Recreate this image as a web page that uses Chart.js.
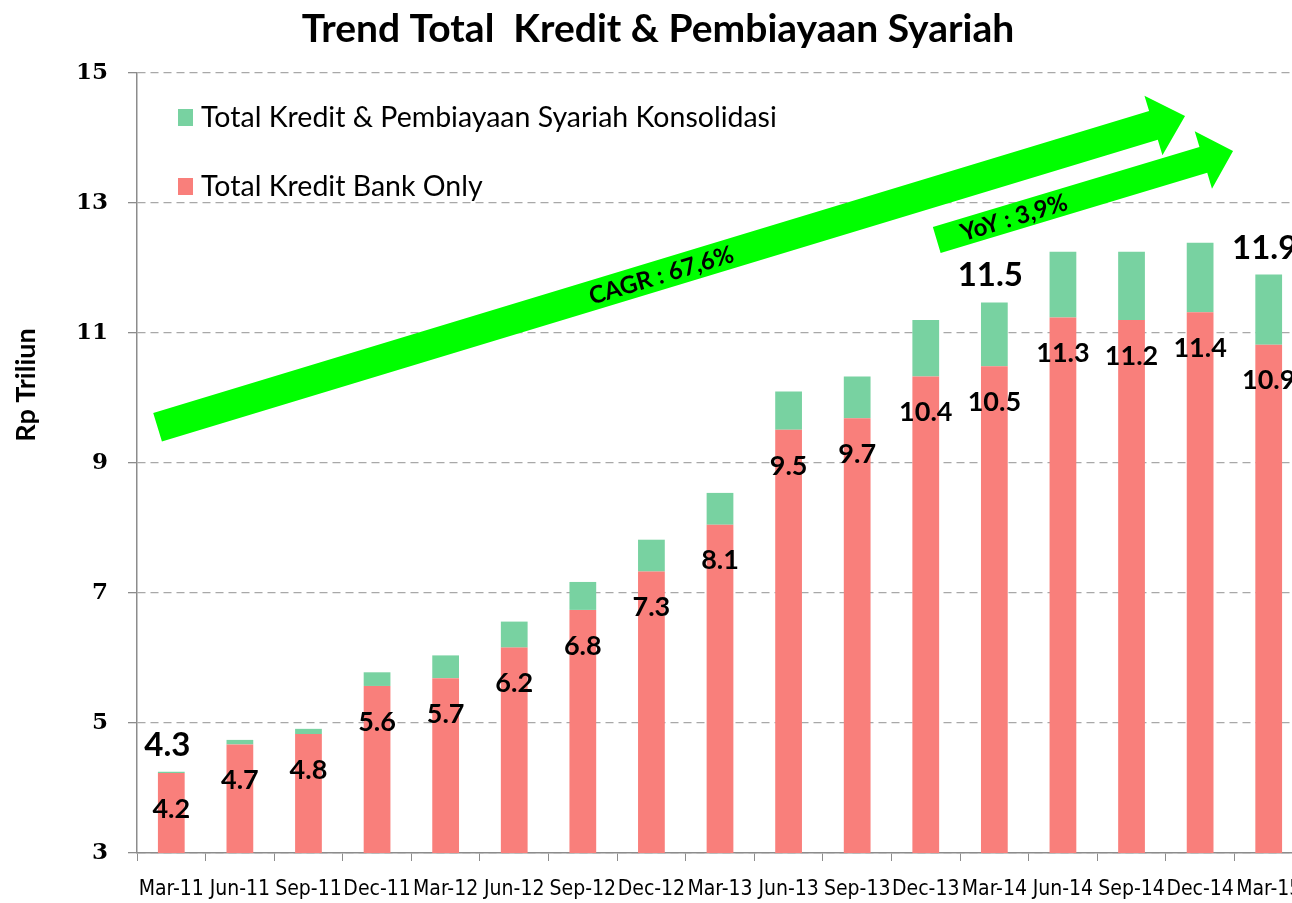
<!DOCTYPE html>
<html>
<head>
<meta charset="utf-8">
<script src="https://cdn.jsdelivr.net/npm/chart.js@4.4.1/dist/chart.umd.min.js"></script>
<style>
  html, body { margin: 0; padding: 0; background: #fff; overflow: hidden; }
  #wrap { width: 1292px; height: 903px; overflow: hidden; position: relative; }
  #chart { display: block; }
</style>
</head>
<body>
<div id="wrap"><canvas id="chart" width="1303" height="903"></canvas></div>
<script>
// Quarters shown on the x axis
const categories = ['Mar-11', 'Jun-11', 'Sep-11', 'Dec-11', 'Mar-12', 'Jun-12', 'Sep-12', 'Dec-12',
    'Mar-13', 'Jun-13', 'Sep-13', 'Dec-13', 'Mar-14', 'Jun-14', 'Sep-14', 'Dec-14', 'Mar-15'];

// Total Kredit Bank Only (Rp Triliun)
const bankOnly = [4.23, 4.67, 4.83, 5.57, 5.69, 6.16, 6.74, 7.33, 8.05, 9.51, 9.69, 10.33, 10.49, 11.24, 11.2, 11.32, 10.82];
// Total Kredit & Pembiayaan Syariah Konsolidasi (top of the green part)
const konsolidasi = [4.25, 4.74, 4.91, 5.78, 6.04, 6.56, 7.17, 7.82, 8.54, 10.1, 10.33, 11.2, 11.47, 12.25, 12.25, 12.39, 11.9];

// Printed labels
const bankLabels = ['4.2', '4.7', '4.8', '5.6', '5.7', '6.2', '6.8', '7.3', '8.1', '9.5', '9.7', '10.4', '10.5', '11.3', '11.2', '11.4', '10.9'];
const totalLabels = ['4.3', null, null, null, null, null, null, null, null, null, null, null, '11.5', null, null, null, '11.9'];

// Y axis ticks
const yMin = 3;
const yMax = 15;
const yStep = 2;

// Growth arrows, ends given in axis units (category index, Rp Triliun)
const growthArrows = [
    { text: 'CAGR : 67,6%', from: [-0.2, 9.55], to: [14.78, 14.34], half: 15, headHalf: 31, headLen: 33, textAt: 0.49 },
    { text: 'YoY : 3,9%', from: [11.16, 12.43], to: [15.48, 13.8], half: 13.5, headHalf: 30, headLen: 31, textAt: 0.26 }
];

const RED = '#F97F7B';
const GREEN = '#78D2A1';
const ARROW = '#00FF00';
const SANS = 'Lato, "Open Sans", sans-serif';

// green part = consolidated total minus bank only
const syariahPart = konsolidasi.map((v, i) => +(v - bankOnly[i]).toFixed(2));

const decorations = {
    id: 'decorations',
    afterDatasetsDraw(chart) {
        const ctx = chart.ctx;
        const xs = chart.scales.x, ys = chart.scales.y;

        // arrows
        growthArrows.forEach(a => {
            const tx = xs.getPixelForValue(a.from[0]), ty = ys.getPixelForValue(a.from[1]);
            const px = xs.getPixelForValue(a.to[0]), py = ys.getPixelForValue(a.to[1]);
            const len = Math.hypot(px - tx, py - ty);
            const ux = (px - tx) / len, uy = (py - ty) / len;
            const nx = -uy, ny = ux;
            const bx = px - ux * a.headLen, by = py - uy * a.headLen;
            ctx.save();
            ctx.fillStyle = ARROW;
            ctx.beginPath();
            ctx.moveTo(tx + nx * a.half, ty + ny * a.half);
            ctx.lineTo(bx + nx * a.half, by + ny * a.half);
            ctx.lineTo(bx + nx * a.headHalf, by + ny * a.headHalf);
            ctx.lineTo(px, py);
            ctx.lineTo(bx - nx * a.headHalf, by - ny * a.headHalf);
            ctx.lineTo(bx - nx * a.half, by - ny * a.half);
            ctx.lineTo(tx - nx * a.half, ty - ny * a.half);
            ctx.closePath();
            ctx.fill();
            // label on the arrow
            const cx = tx + (px - tx) * a.textAt, cy = ty + (py - ty) * a.textAt;
            ctx.translate(cx, cy);
            ctx.rotate(Math.atan2(py - ty, px - tx));
            ctx.fillStyle = '#000';
            ctx.font = 'bold 24px ' + SANS;
            ctx.textAlign = 'center';
            ctx.textBaseline = 'middle';
            ctx.fillText(a.text, 0, 1);
            ctx.restore();
        });

        // value labels
        const bankMeta = chart.getDatasetMeta(0);
        const topMeta = chart.getDatasetMeta(1);
        ctx.save();
        ctx.fillStyle = '#000';
        ctx.textAlign = 'center';
        ctx.textBaseline = 'middle';
        ctx.font = 'bold 27px ' + SANS;
        bankMeta.data.forEach((bar, i) => {
            ctx.fillText(bankLabels[i], bar.x, bar.y + 36);
        });
        ctx.font = 'bold 33px ' + SANS;
        ctx.textBaseline = 'alphabetic';
        topMeta.data.forEach((bar, i) => {
            if (totalLabels[i]) ctx.fillText(totalLabels[i], bar.x - 4, bar.y - 16);
        });
        ctx.restore();
    },
    afterDraw(chart) {
        const ctx = chart.ctx;
        const area = chart.chartArea;
        ctx.save();
        ctx.fillStyle = '#000';
        // title
        ctx.font = 'bold 39px ' + SANS;
        ctx.textAlign = 'center';
        ctx.textBaseline = 'alphabetic';
        ctx.fillText('Trend Total  Kredit & Pembiayaan Syariah', 658, 42);

        // y axis title
        ctx.save();
        ctx.translate(26, 385);
        ctx.rotate(-Math.PI / 2);
        ctx.font = 'bold 27px ' + SANS;
        ctx.textBaseline = 'middle';
        ctx.fillText('Rp Triliun', 0, 0);
        ctx.restore();

        // legend inside the plot
        const items = [chart.data.datasets[1], chart.data.datasets[0]];
        ctx.font = '28.5px ' + SANS;
        ctx.textAlign = 'left';
        ctx.textBaseline = 'middle';
        items.forEach((ds, k) => {
            const y = area.top + 44 + k * 69;
            ctx.fillStyle = ds.backgroundColor;
            ctx.fillRect(area.left + 41, y - 8, 15, 17);
            ctx.fillStyle = '#000';
            ctx.fillText(ds.label, area.left + 64, y + 1);
        });
        ctx.restore();
    }
};

new Chart(document.getElementById('chart'), {
    type: 'bar',
    data: {
        labels: categories,
        datasets: [
            { label: 'Total Kredit Bank Only', data: bankOnly, backgroundColor: RED,
              categoryPercentage: 1, barPercentage: 0.39 },
            { label: 'Total Kredit & Pembiayaan Syariah Konsolidasi', data: syariahPart, backgroundColor: GREEN,
              categoryPercentage: 1, barPercentage: 0.39 }
        ]
    },
    options: {
        responsive: false,
        animation: false,
        layout: { padding: { top: 73, left: 0, right: 0, bottom: 0 } },
        plugins: {
            legend: { display: false },
            title: { display: false },
            tooltip: { enabled: false }
        },
        scales: {
            x: {
                stacked: true,
                afterFit(scale) {
                    scale.height = 50;
                    // keep the plot running to the canvas edge like the original
                    scale.paddingLeft = 0;
                    scale.paddingRight = 0;
                },
                grid: { drawOnChartArea: false, drawTicks: true, tickLength: 8, color: '#8C8C8C', offset: true },
                border: { color: '#8C8C8C', width: 1.5 },
                ticks: {
                    autoSkip: false, maxRotation: 0, minRotation: 0, padding: 16,
                    color: '#000', font: { family: '"DejaVu Sans Condensed", "DejaVu Sans", sans-serif', size: 21 }
                }
            },
            y: {
                stacked: true,
                min: yMin,
                max: yMax,
                afterFit(scale) { scale.width = 137; },
                grid: { color: '#A8A8A8', lineWidth: 1.3, tickLength: 9, tickColor: '#8C8C8C', tickBorderDash: [] },
                border: { color: '#8C8C8C', width: 1.5, dash: [8, 5] },
                ticks: {
                    stepSize: yStep, padding: 20, color: '#000',
                    font: { family: '"DejaVu Serif", serif', size: 23, weight: 'bold' }
                }
            }
        }
    },
    plugins: [decorations]
});
</script>
</body>
</html>
